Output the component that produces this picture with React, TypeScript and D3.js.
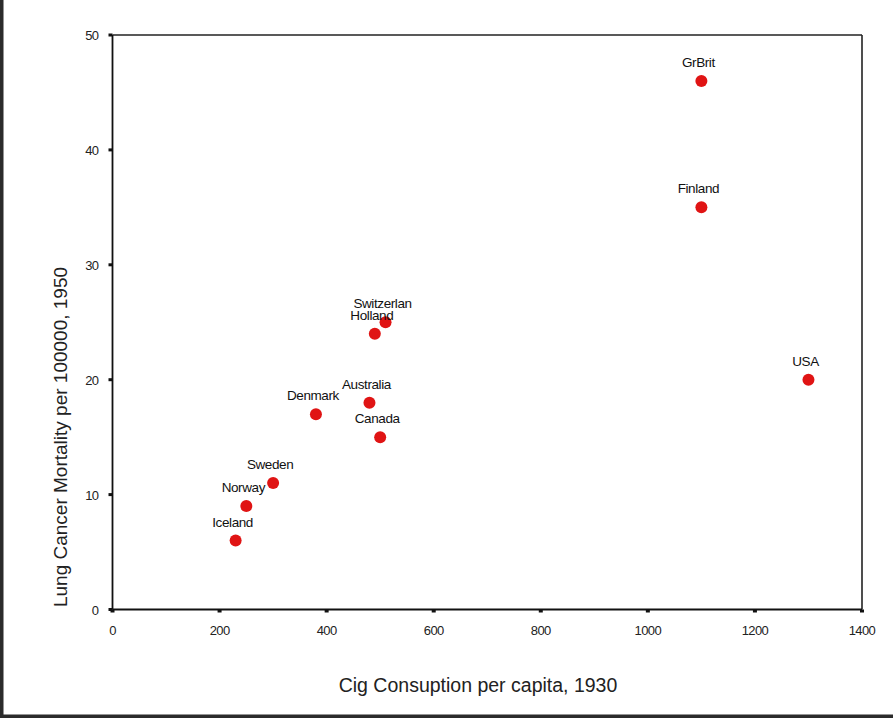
import * as d3 from "d3";

// Doll (1950) style data: cigarette consumption 1930 vs lung cancer deaths 1950
const countries = ["GrBrit", "Finland", "USA", "Switzerlan", "Holland", "Australia", "Denmark", "Canada", "Sweden", "Norway", "Iceland"];
const cigConsumption = [1100, 1100, 1300, 510, 490, 480, 380, 500, 300, 250, 230];
const mortality = [46, 35, 20, 25, 24, 18, 17, 15, 11, 9, 6];

const xTicks = [0, 200, 400, 600, 800, 1000, 1200, 1400];
const yTicks = [0, 10, 20, 30, 40, 50];

const W = 893;
const H = 718;
const plot = { left: 112.5, right: 862, top: 35, bottom: 609.5 };
const DOT = "#e01414";
const FONT = "Arial, 'Liberation Sans', Helvetica, sans-serif";

export default function App() {
  const x = d3.scaleLinear().domain([0, 1400]).range([plot.left, plot.right]);
  const y = d3.scaleLinear().domain([0, 50]).range([plot.bottom, plot.top]);

  const points = countries.map((name, i) => ({ name, cx: x(cigConsumption[i]), cy: y(mortality[i]) }));

  return (
    <svg width={W} height={H} style={{ position: "absolute", left: 0, top: 0, background: "#fff" }} fontFamily={FONT}>
      {/* screenshot frame edges */}
      <rect x={0} y={0} width={3.5} height={H} fill="#2b2b2b" />
      <rect x={0} y={H - 3.5} width={W} height={3.5} fill="#2b2b2b" />

      {/* frame */}
      <line x1={plot.left} x2={plot.right} y1={plot.top} y2={plot.top} stroke="#222" strokeWidth={1.6} />
      <line x1={plot.right} x2={plot.right} y1={plot.top} y2={plot.bottom} stroke="#222" strokeWidth={1.6} />
      <line x1={plot.left} x2={plot.right} y1={plot.bottom} y2={plot.bottom} stroke="#111" strokeWidth={1.8} />
      <line x1={plot.left} x2={plot.left} y1={plot.top} y2={plot.bottom} stroke="#111" strokeWidth={1.8} />

      {/* x ticks */}
      {xTicks.map(t => (
        <g key={"x" + t}>
          <rect x={x(t) - 2} y={plot.bottom} width={4} height={3} fill="#111" />
          <text x={x(t)} y={plot.bottom + 25} textAnchor="middle" fontSize={13} letterSpacing={-0.6} fill="#222">{t}</text>
        </g>
      ))}

      {/* y ticks */}
      {yTicks.map(t => (
        <g key={"y" + t}>
          <rect x={plot.left - 4} y={y(t) - 1.5} width={4} height={3} fill="#111" />
          <text x={plot.left - 14} y={y(t) + 5} textAnchor="end" fontSize={13} letterSpacing={-0.6} fill="#222">{t}</text>
        </g>
      ))}

      {/* points */}
      {points.map(p => (
        <circle key={p.name} cx={p.cx} cy={p.cy} r={6} fill={DOT} />
      ))}

      {/* labels */}
      {points.map(p => (
        <text key={"l" + p.name} x={p.cx - 3} y={p.cy - 14} textAnchor="middle" fontSize={13.5} letterSpacing={-0.4} fill="#111">
          {p.name}
        </text>
      ))}

      {/* axis titles */}
      <text x={478} y={692} textAnchor="middle" fontSize={19.5} fill="#222">Cig Consuption per capita, 1930</text>
      <text transform="translate(67,437) rotate(-90)" textAnchor="middle" fontSize={19} fill="#222">
        Lung Cancer Mortality per 100000, 1950
      </text>
    </svg>
  );
}
